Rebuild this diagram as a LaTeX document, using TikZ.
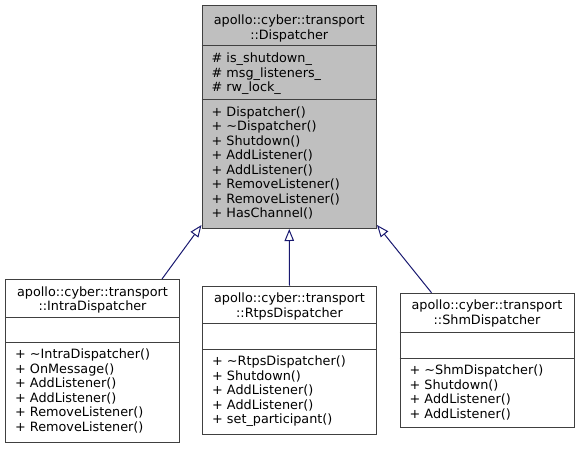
\documentclass[tikz,border=0pt]{standalone}
\usepackage{fontspec}
\setmainfont{DejaVu Sans}
\usetikzlibrary{arrows.meta}
\definecolor{boxgray}{HTML}{404040}
\definecolor{headfill}{HTML}{BFBFBF}
\definecolor{edgeblue}{HTML}{191970}

\begin{document}
\begin{tikzpicture}[x=1pt, y=-1pt,
  every node/.style={font=\fontsize{12.8}{14.5}\selectfont},
  classbox/.style={draw=boxgray, line width=1pt, anchor=north west, inner sep=0pt},
  sepline/.style={draw=boxgray, line width=1pt},
  title/.style={anchor=north, align=center, inner sep=0pt},
  members/.style={anchor=north west, align=left, inner sep=0pt},
  inherit/.style={draw=edgeblue, line width=1pt, -{Triangle[open, length=12pt, width=9.5pt]}}]

  \useasboundingbox (0,0) rectangle (579,448);

  \node[classbox, fill=headfill, minimum width=174.5pt, minimum height=223pt] (dispatcher) at (201.5,5) {};
  \draw[sepline] ([yshift=-40pt]dispatcher.north west) -- ([yshift=-40pt]dispatcher.north east);
  \draw[sepline] ([yshift=-94pt]dispatcher.north west) -- ([yshift=-94pt]dispatcher.north east);
  \node[title] (dispatcher title) at ([yshift=-9.8pt]dispatcher.north) {apollo::cyber::transport\\::Dispatcher};
  \node[members] (dispatcher attrs) at ([shift={(10pt,-47.8pt)}]dispatcher.north west)
    {\# is\_shutdown\_\\\# msg\_listeners\_\\\# rw\_lock\_};
  \node[members] (dispatcher ops) at ([shift={(10pt,-101.3pt)}]dispatcher.north west)
    {+ Dispatcher()\\+ \textasciitilde Dispatcher()\\+ Shutdown()\\+ AddListener()\\+ AddListener()\\+ RemoveListener()\\+ RemoveListener()\\+ HasChannel()};

  \node[classbox, fill=white, minimum width=174pt, minimum height=163pt] (intra) at (5,279) {};
  \draw[sepline] ([yshift=-38pt]intra.north west) -- ([yshift=-38pt]intra.north east);
  \draw[sepline] ([yshift=-63pt]intra.north west) -- ([yshift=-63pt]intra.north east);
  \node[title] (intra title) at ([yshift=-7.3pt]intra.north) {apollo::cyber::transport\\::IntraDispatcher};
  \node[members] (intra ops) at ([shift={(10pt,-69.8pt)}]intra.north west)
    {+ \textasciitilde IntraDispatcher()\\+ OnMessage()\\+ AddListener()\\+ AddListener()\\+ RemoveListener()\\+ RemoveListener()};

  \node[classbox, fill=white, minimum width=174pt, minimum height=148.5pt] (rtps) at (202,285.5) {};
  \draw[sepline] ([yshift=-38pt]rtps.north west) -- ([yshift=-38pt]rtps.north east);
  \draw[sepline] ([yshift=-63.5pt]rtps.north west) -- ([yshift=-63.5pt]rtps.north east);
  \node[title] (rtps title) at ([yshift=-7.3pt]rtps.north) {apollo::cyber::transport\\::RtpsDispatcher};
  \node[members] (rtps ops) at ([shift={(10pt,-70.3pt)}]rtps.north west)
    {+ \textasciitilde RtpsDispatcher()\\+ Shutdown()\\+ AddListener()\\+ AddListener()\\+ set\_participant()};

  \node[classbox, fill=white, minimum width=174pt, minimum height=134pt] (shm) at (399.5,292.7) {};
  \draw[sepline] ([yshift=-39.5pt]shm.north west) -- ([yshift=-39.5pt]shm.north east);
  \draw[sepline] ([yshift=-65.5pt]shm.north west) -- ([yshift=-65.5pt]shm.north east);
  \node[title] (shm title) at ([yshift=-7.3pt]shm.north) {apollo::cyber::transport\\::ShmDispatcher};
  \node[members] (shm ops) at ([shift={(10pt,-72.3pt)}]shm.north west)
    {+ \textasciitilde ShmDispatcher()\\+ Shutdown()\\+ AddListener()\\+ AddListener()};

  \draw[inherit] ([xshift=-18pt]intra.north east) -- ([yshift=4pt]dispatcher.south west);
  \draw[inherit] (rtps.north) -- (dispatcher.south);
  \draw[inherit] ([xshift=32pt]shm.north west) -- ([yshift=4pt]dispatcher.south east);

\end{tikzpicture}
\end{document}
